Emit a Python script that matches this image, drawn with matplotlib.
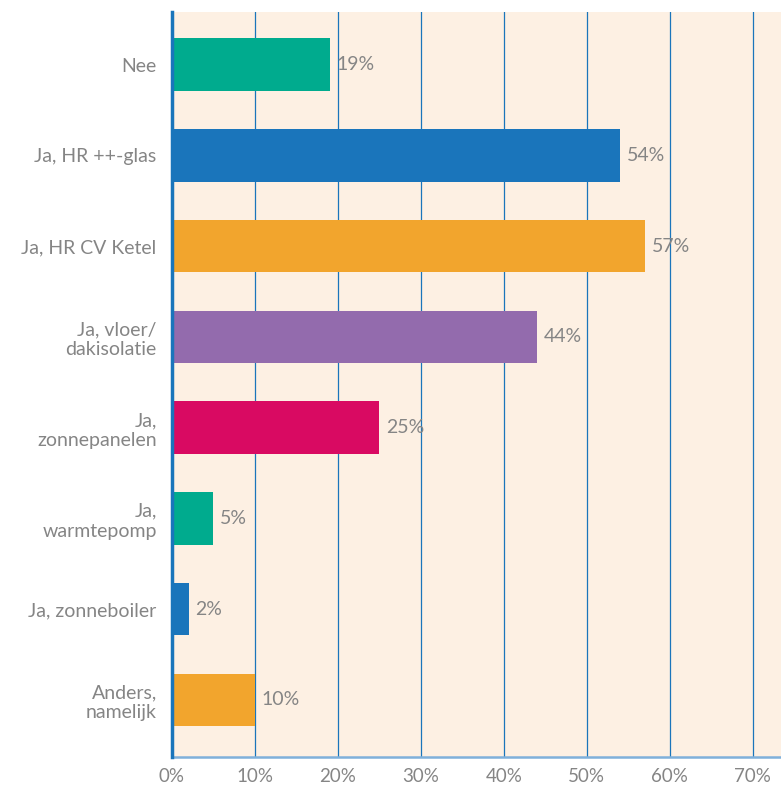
from matplotlib import pyplot as plt

categories = ['Nee', 'Ja, HR ++-glas', 'Ja, HR CV Ketel', 'Ja, vloer/\ndakisolatie',
              'Ja,\nzonnepanelen', 'Ja,\nwarmtepomp', 'Ja, zonneboiler',
              'Anders,\nnamelijk']
values = [19, 54, 57, 44, 25, 5, 2, 10]
colors = ['#00AB8E', '#1A75BB', '#F2A52D', '#936BAD', '#D90A62',
          '#00AB8E', '#1A75BB', '#F2A52D']
ticks = [0, 10, 20, 30, 40, 50, 60, 70]

plt.rcParams['font.family'] = ['Lato', 'DejaVu Sans']
gray = '#858585'

fig = plt.figure(figsize=(7.81, 7.86), dpi=100)
ax = fig.add_axes([0.2202, 0.0369, 0.7798, 0.9478])
ax.set_facecolor('#FDF0E3')

pos = range(len(categories))
ax.barh(pos, values, height=0.58, color=colors, zorder=3)
for p, v in zip(pos, values):
    ax.text(v + 0.8, p, f'{v}%', va='center', ha='left', color=gray,
            fontsize=14, zorder=4)

ax.set_ylim(7.63, -0.58)
ax.set_xlim(0, 73.4)
ax.set_yticks(list(pos))
ax.set_yticklabels(categories, fontsize=14, color=gray, linespacing=1.2)
ax.set_xticks(ticks)
ax.set_xticklabels([f'{t}%' for t in ticks], fontsize=13.5, color=gray)
ax.tick_params(length=0, pad=11)
ax.tick_params(axis='x', pad=8)

ax.grid(axis='x', color='#1A75BB', linewidth=0.9, zorder=1)
ax.spines['left'].set_color('#1A75BB')
ax.spines['left'].set_linewidth(2.5)
ax.spines['left'].set_zorder(5)
ax.spines['bottom'].set_color('#7FB0DA')
ax.spines['bottom'].set_linewidth(1.8)
ax.spines['top'].set_visible(False)
ax.spines['right'].set_visible(False)

plt.savefig('out.png', dpi=100)
